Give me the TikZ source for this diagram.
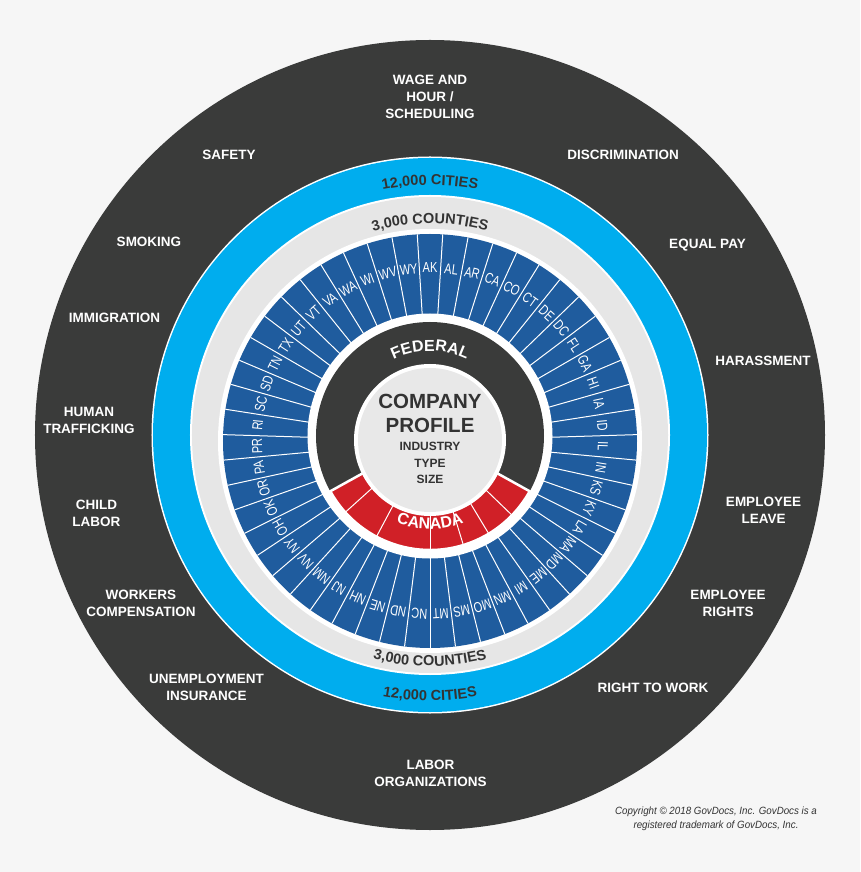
\documentclass[tikz,border=0pt]{standalone}
\usepackage{fontspec}
\setsansfont{Liberation Sans}
\newfontfamily\statefont[FakeStretch=0.76]{Liberation Sans}
\newfontfamily\notefont[FakeStretch=0.93]{Liberation Sans}
\usetikzlibrary{decorations.text}

\definecolor{bgcol}{HTML}{F6F6F6}
\definecolor{ringdark}{HTML}{3A3B3A}
\definecolor{cityblue}{HTML}{00ADEE}
\definecolor{countygray}{HTML}{E6E6E6}
\definecolor{stateblue}{HTML}{1F5C9E}
\definecolor{canadared}{HTML}{D02027}
\definecolor{coregray}{HTML}{E8E8E8}
\definecolor{txtdark}{HTML}{333333}

\newcommand{\ringfont}{\sffamily\bfseries\fontsize{14.5}{14.5}\selectfont}
\newcommand{\levelfont}{\sffamily\bfseries\fontsize{16}{16}\selectfont}

\begin{document}
\begin{tikzpicture}[x=1pt, y=1pt, font=\sffamily, topic/.style={text=white, font=\sffamily\bfseries\fontsize{13.5}{17}\selectfont, align=center, inner sep=0pt}, state label/.style={text=white, font=\statefont\fontsize{14.5}{14.5}\selectfont, inner sep=0pt}, seg line/.style={white, line width=1pt}]

    % =========================================================================
    % Lienzo y centros de los anillos
    % =========================================================================
    \fill[bgcol] (-430, -434) rectangle (430, 438);
    \useasboundingbox (-430, -434) rectangle (430, 438);
    \coordinate (O) at (0, 3);   % anillos exteriores
    \coordinate (S) at (0, -3);  % anillo de estados
    \coordinate (F) at (0, 2);   % anillo federal
    \coordinate (C) at (0, -2);  % perfil de la empresa

    % =========================================================================
    % Anillos
    % =========================================================================
    \fill[ringdark] (O) circle[radius=395];
    \fill[white] (O) circle[radius=278.5];
    \fill[cityblue] (O) circle[radius=277];
    \fill[white] (O) circle[radius=240];
    \fill[countygray] (O) circle[radius=238];
    \fill[white] (S) circle[radius=212];
    \fill[stateblue] (S) circle[radius=207];

    % Separadores de estados
    \foreach \i in {0,...,50} {
        \pgfmathsetmacro{\sepang}{90-360/51*(\i+0.5)}
        \draw[seg line] ([shift={(\sepang:115)}]S) -- ([shift={(\sepang:207)}]S);
    }

    \fill[white] (F) circle[radius=122.5];
    \fill[ringdark] (F) circle[radius=114];

    % Canada
    \filldraw[fill=canadared, draw=white, line width=2.5pt] (F) -- ([shift={(209:114)}]F) arc[start angle=209, end angle=331, radius=114] -- cycle;
    \foreach \a in {222, 242, 270, 287, 301, 316}
        \draw[seg line] ([shift={(\a:70)}]F) -- ([shift={(\a:114)}]F);

    \fill[white] (C) circle[radius=76];
    \fill[coregray] (C) circle[radius=72];

    % =========================================================================
    % Estados
    % =========================================================================
    \foreach \st [count=\i from 0] in {AK,AL,AR,CA,CO,CT,DE,DC,FL,GA,HI,IA,ID,IL,IN,KS,KY,LA,MA,MD,ME,MI,MN,MO,MS,MT,NC,ND,NE,NH,NJ,NM,NV,NY,OH,OK,OR,PA,PR,RI,SC,SD,TN,TX,UT,VT,VA,WA,WI,WV,WY} {
        \pgfmathsetmacro{\ang}{90-360/51*\i}
        \node[state label, rotate=\ang-90] (st-\st) at ([shift={(\ang:173)}]S) {\st};
    }

    % =========================================================================
    % Textos curvos
    % =========================================================================
    \path[decorate, decoration={text along path, text align=center, text color=txtdark, text={|\ringfont|12{,}000 CITIES}}] ([shift={(125:250)}]O) arc[start angle=125, end angle=55, radius=250];
    \path[decorate, decoration={text along path, text align=center, text color=txtdark, text={|\ringfont|3{,}000 COUNTIES}}] ([shift={(125:211.5)}]O) arc[start angle=125, end angle=55, radius=211.5];
    \path[decorate, decoration={text along path, text align=center, text color=txtdark, text={|\ringfont|3{,}000 COUNTIES}}] ([shift={(235:231)}]O) arc[start angle=235, end angle=305, radius=231];
    \path[decorate, decoration={text along path, text align=center, text color=txtdark, text={|\ringfont|12{,}000 CITIES}}] ([shift={(235:265.5)}]O) arc[start angle=235, end angle=305, radius=265.5];
    \path[decorate, decoration={text along path, text align=center, text color=white, text={|\levelfont|FEDERAL}}] ([shift={(130:85)}]F) arc[start angle=130, end angle=50, radius=85];
    \path[decorate, decoration={text along path, text align=center, text color=white, text={|\levelfont|CANADA}}] ([shift={(230:93)}]F) arc[start angle=230, end angle=310, radius=93];

    % Perfil
    \node[text=txtdark, font=\sffamily\bfseries\fontsize{20.5}{24}\selectfont, align=center, inner sep=0pt] (profile) at (0, 25) {COMPANY\\PROFILE};
    \node[text=txtdark, font=\sffamily\bfseries\fontsize{12}{16.5}\selectfont, align=center, inner sep=0pt] (traits) at (0, -25) {INDUSTRY\\TYPE\\SIZE};

    % =========================================================================
    % Temas del anillo exterior
    % =========================================================================
    \node[topic] (wage) at (0, 341) {WAGE AND\\HOUR /\\SCHEDULING};
    \node[topic] (safety) at (-201, 283) {SAFETY};
    \node[topic] (discrimination) at (193, 283) {DISCRIMINATION};
    \node[topic] (smoking) at (-281, 196) {SMOKING};
    \node[topic] (equalpay) at (277.5, 193) {EQUAL PAY};
    \node[topic] (immigration) at (-315.5, 120) {IMMIGRATION};
    \node[topic] (harassment) at (333, 77) {HARASSMENT};
    \node[topic] (trafficking) at (-341, 18) {HUMAN\\TRAFFICKING};
    \node[topic] (childlabor) at (-333.5, -75.5) {CHILD\\LABOR};
    \node[topic] (leave) at (333.5, -72.5) {EMPLOYEE\\LEAVE};
    \node[topic] (workerscomp) at (-289, -165.5) {WORKERS\\COMPENSATION};
    \node[topic] (rights) at (298, -165.5) {EMPLOYEE\\RIGHTS};
    \node[topic] (unemployment) at (-223.5, -249.5) {UNEMPLOYMENT\\INSURANCE};
    \node[topic] (righttowork) at (223, -250) {RIGHT TO WORK};
    \node[topic] (labororg) at (0.5, -335.5) {LABOR\\ORGANIZATIONS};

    % Nota de copyright
    \node[text=txtdark, font=\notefont\itshape\fontsize{10.5}{14}\selectfont, align=center, inner sep=0pt] (copyright) at (286, -381) {Copyright © 2018 GovDocs, Inc. GovDocs is a\\registered trademark of GovDocs, Inc.};

\end{tikzpicture}
\end{document}
